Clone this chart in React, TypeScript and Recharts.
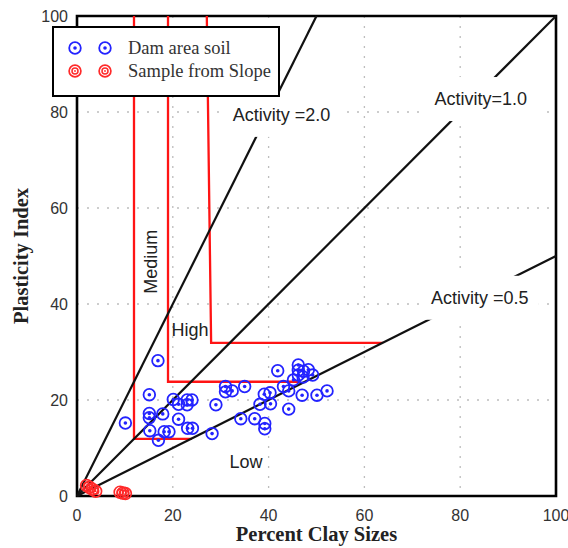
import React from "react";
import { CartesianGrid, ReferenceArea, Scatter, ScatterChart, XAxis, YAxis } from "recharts";

// Dam area soil samples, [clay %, plasticity index]
const damAreaSoil = [
  [10.1, 15.2], [15.1, 21.1], [15.1, 17.2], [15.1, 16.3], [15.2, 13.6], [16.9, 28.2],
  [17.0, 11.6], [17.9, 17.1], [18.2, 13.4], [19.2, 13.4], [20.1, 20.1], [21.2, 19.1],
  [21.2, 16.0], [23.0, 20.0], [24.0, 20.0], [23.0, 19.0], [23.1, 14.1], [24.1, 14.1],
  [28.2, 13.0], [29.0, 19.0], [31.0, 22.8], [31.0, 21.7], [32.4, 21.9], [35.0, 22.8],
  [34.2, 16.1], [37.1, 16.1], [38.2, 19.1], [39.1, 21.2], [40.3, 21.5], [40.4, 19.2],
  [39.2, 15.1], [39.2, 14.0], [41.9, 26.1], [43.1, 22.8], [44.2, 21.9], [44.2, 18.1],
  [45.2, 24.2], [46.2, 27.3], [46.2, 26.2], [47.3, 26.0], [48.3, 26.3], [49.2, 25.2],
  [46.2, 25.2], [47.2, 24.8], [47.0, 21.0], [50.1, 21.0], [52.2, 21.9],
];

const slopeSamples = [
  [2.0, 2.2], [2.6, 1.8], [3.2, 1.4], [3.9, 1.0], [9.0, 0.8], [9.6, 0.6], [10.1, 0.5],
];

// red zone boundaries
const lowBoundary = [[11.9, 100], [11.9, 11.9], [24.0, 11.9]];
const mediumBoundary = [[19.0, 100], [19.0, 23.8], [46.6, 23.8]];
const highBoundary = [[27.1, 100], [28.0, 31.9], [63.9, 31.9]];

const activities = [2.0, 1.0, 0.5];
const activityLabels = ["Activity =2.0", "Activity=1.0", "Activity =0.5"];
const activityLabelAt = [[42.7, 79.4], [84.3, 82.7], [84.1, 41.3]];

const zoneLabels = ["Medium", "High", "Low"];
const zoneLabelAt = [[15.4, 48.8], [23.6, 34.6], [35.3, 7.1]];

const ticks = [0, 20, 40, 60, 80, 100];

const toPts = (arr: number[][]) => arr.map(([x, y]) => ({ x, y }));

const activityLines = activities.map((a) => [
  { x: 0, y: 0 },
  { x: Math.min(100, 100 / a), y: Math.min(100, 100 * a) },
]);

const activityLabelData = activityLabels.map((text, i) => ({
  x: activityLabelAt[i][0],
  y: activityLabelAt[i][1],
  text,
}));
const zoneLabelData = zoneLabels.map((text, i) => ({
  x: zoneLabelAt[i][0],
  y: zoneLabelAt[i][1],
  text,
}));

const BLUE = "#2323ff";
const RED = "#ff2a2a";
const SANS = "'Liberation Sans', Arial, sans-serif";
const SERIF = "'Liberation Serif', 'Times New Roman', serif";

const BlueMark = ({ cx, cy }: any) => (
  <g>
    <circle cx={cx} cy={cy} r={5.8} fill="none" stroke={BLUE} strokeWidth={1.8} />
    <circle cx={cx} cy={cy} r={1.8} fill={BLUE} />
  </g>
);

const RedMark = ({ cx, cy }: any) => (
  <g>
    <circle cx={cx} cy={cy} r={5.9} fill="none" stroke={RED} strokeWidth={1.7} />
    <circle cx={cx} cy={cy} r={3} fill="none" stroke={RED} strokeWidth={1.5} />
    <circle cx={cx} cy={cy} r={0.9} fill={RED} />
  </g>
);

const NoMark = () => <g />;

const ActivityLabel = ({ cx, cy, payload }: any) => (
  <g>
    <rect x={cx - 59} y={cy - 22} width={118} height={44} fill="#fff" />
    <text x={cx} y={cy} textAnchor="middle" dominantBaseline="central" fontSize={18} fontFamily={SANS} fill="#222">
      {payload.text}
    </text>
  </g>
);

const ZoneLabel = ({ cx, cy, payload }: any) => (
  <text
    x={cx}
    y={cy}
    textAnchor="middle"
    dominantBaseline="central"
    fontSize={18}
    fontFamily={SANS}
    fill="#222"
    transform={payload.text === "Medium" ? `rotate(-90 ${cx} ${cy})` : undefined}
  >
    {payload.text}
  </text>
);

const LegendIcon = ({ red }: { red?: boolean }) => (
  <svg width={16} height={16} style={{ display: "block" }}>
    {red ? <RedMark cx={8} cy={8} /> : <BlueMark cx={8} cy={8} />}
  </svg>
);

export default function App() {
  return (
    <div style={{ position: "absolute", left: 0, top: 0, width: 568, height: 548, background: "#fff" }}>
      <ScatterChart width={568} height={548} margin={{ top: 16, right: 12, bottom: 0, left: 0 }}>
        <CartesianGrid stroke="#bdbdbd" strokeWidth={1.3} strokeDasharray="2 8" />
        <XAxis
          type="number"
          dataKey="x"
          domain={[0, 100]}
          ticks={ticks}
          height={52}
          axisLine={false}
          tickLine={false}
          tickSize={0}
          tickMargin={14}
          tick={{ fill: "#333", fontSize: 16, fontFamily: SANS }}
          label={{
            value: "Percent Clay Sizes",
            position: "insideBottom",
            offset: 7,
            style: { fontFamily: SERIF, fontWeight: "bold", fontSize: 20.5, fill: "#222" },
          }}
        />
        <YAxis
          type="number"
          dataKey="y"
          domain={[0, 100]}
          ticks={ticks}
          width={77}
          axisLine={false}
          tickLine={false}
          tickSize={0}
          tickMargin={9}
          tick={{ fill: "#333", fontSize: 16, fontFamily: SANS }}
          label={{
            value: "Plasticity Index",
            angle: -90,
            position: "insideLeft",
            offset: 21,
            style: { textAnchor: "middle", fontFamily: SERIF, fontWeight: "bold", fontSize: 20.5, fill: "#222" },
          }}
        />
        {[lowBoundary, mediumBoundary, highBoundary].map((b, i) => (
          <Scatter
            key={"zone" + i}
            data={toPts(b)}
            line={{ stroke: "#ff1414", strokeWidth: 2.3 }}
            shape={NoMark}
            isAnimationActive={false}
          />
        ))}
        {activityLines.map((l, i) => (
          <Scatter
            key={"act" + i}
            data={l}
            line={{ stroke: "#111", strokeWidth: 2.2 }}
            shape={NoMark}
            isAnimationActive={false}
          />
        ))}
        <Scatter data={activityLabelData} shape={ActivityLabel} isAnimationActive={false} />
        <Scatter data={zoneLabelData} shape={ZoneLabel} isAnimationActive={false} />
        <Scatter name="Dam area soil" data={toPts(damAreaSoil)} shape={BlueMark} isAnimationActive={false} />
        <Scatter name="Sample from Slope" data={toPts(slopeSamples)} shape={RedMark} isAnimationActive={false} />
        <ReferenceArea x1={0} x2={100} y1={0} y2={100} fill="none" fillOpacity={0} stroke="#000" strokeWidth={2.6} />
      </ScatterChart>
      <div
        style={{
          position: "absolute",
          left: 52,
          top: 26,
          width: 228,
          height: 71,
          boxSizing: "border-box",
          border: "2px solid #000",
          background: "#fff",
          fontFamily: SERIF,
          fontSize: 18.5,
          color: "#333",
        }}
      >
        {[
          { label: "Dam area soil", red: false, top: 11 },
          { label: "Sample from Slope", red: true, top: 34 },
        ].map((row) => (
          <div key={row.label} style={{ position: "absolute", left: 0, top: row.top, height: 18, width: "100%" }}>
            <div style={{ position: "absolute", left: 13, top: 1 }}>
              <LegendIcon red={row.red} />
            </div>
            <div style={{ position: "absolute", left: 43, top: 1 }}>
              <LegendIcon red={row.red} />
            </div>
            <div style={{ position: "absolute", left: 74, top: -2, lineHeight: "22px", whiteSpace: "nowrap" }}>
              {row.label}
            </div>
          </div>
        ))}
      </div>
    </div>
  );
}
